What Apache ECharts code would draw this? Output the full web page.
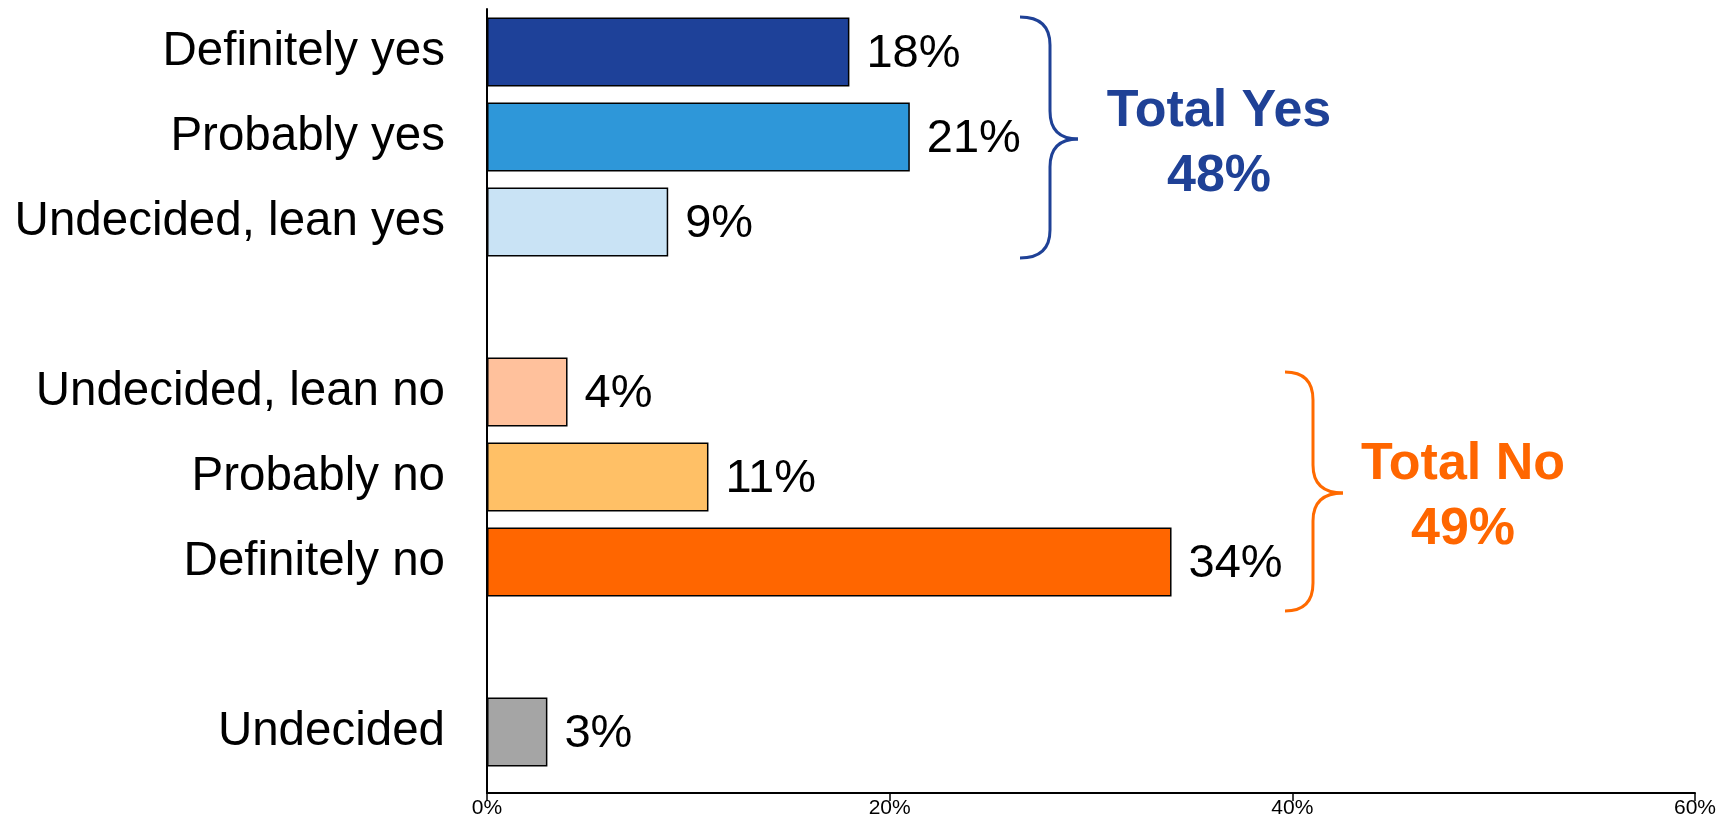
<!DOCTYPE html>
<html>
<head>
<meta charset="utf-8">
<title>Total Yes / Total No</title>
<script src="https://cdn.jsdelivr.net/npm/echarts@6.0.0/dist/echarts.min.js"></script>
<style>
  html, body { margin: 0; padding: 0; background: #fff; }
  #chart { width: 1725px; height: 819px; }
</style>
</head>
<body>
<div id="chart"></div>
<script>
// answers, top to bottom ('' = empty spacer row)
const categories = ['Definitely yes', 'Probably yes', 'Undecided, lean yes', '',
  'Undecided, lean no', 'Probably no', 'Definitely no', '', 'Undecided'];
const values = [18, 21, 9, null, 4, 11, 34, null, 3];
const barColors = ['#1E4199', '#2E97D9', '#C9E3F5', '#fff',
  '#FFC19C', '#FFC066', '#FF6600', '#fff', '#A5A5A5'];
const xTicks = [0, 20, 40, 60];
const totalYes = 48;
const totalNo = 49;

const FONT = '"Liberation Sans", Arial, sans-serif';

// curly brace made of 4 curves + 2 lines
function brace(xTip, xMid, xPoint, yTop, yMid, yBot, r, color) {
  const st = { stroke: color, lineWidth: 3, fill: null };
  return [
    { type: 'bezierCurve', shape: { x1: xTip, y1: yTop, cpx1: xMid, cpy1: yTop, x2: xMid, y2: yTop + r }, style: st },
    { type: 'line', shape: { x1: xMid, y1: yTop + r, x2: xMid, y2: yMid - r }, style: st },
    { type: 'bezierCurve', shape: { x1: xMid, y1: yMid - r, cpx1: xMid, cpy1: yMid, x2: xPoint, y2: yMid }, style: st },
    { type: 'bezierCurve', shape: { x1: xPoint, y1: yMid, cpx1: xMid, cpy1: yMid, x2: xMid, y2: yMid + r }, style: st },
    { type: 'line', shape: { x1: xMid, y1: yMid + r, x2: xMid, y2: yBot - r }, style: st },
    { type: 'bezierCurve', shape: { x1: xMid, y1: yBot - r, cpx1: xMid, cpy1: yBot, x2: xTip, y2: yBot }, style: st }
  ];
}

let chartDom = document.getElementById('chart');
let myChart = echarts.init(chartDom, null, { renderer: 'canvas', width: 1725, height: 819 });

let option = {
  animation: false,
  backgroundColor: '#fff',
  grid: [
    { left: 487, right: 30, top: 9.5, height: 765 },   // bars
    { left: 487, right: 30, top: 9, height: 785 }      // axis frame
  ],
  xAxis: [
    { gridIndex: 0, type: 'value', min: 0, max: 60, show: false },
    {
      gridIndex: 1, type: 'value', min: 0, max: 60, interval: 20,
      axisLine: { show: true, lineStyle: { color: '#000', width: 2 } },
      axisTick: { show: true, length: 8, lineStyle: { color: '#000', width: 1.5 } },
      splitLine: { show: false },
      axisLabel: {
        margin: 5, color: '#000', fontSize: 21,
        fontFamily: '"Liberation Sans Narrow", "Liberation Sans", Arial, sans-serif',
        formatter: v => xTicks.indexOf(v) >= 0 ? v + '%' : ''
      }
    }
  ],
  yAxis: [
    {
      gridIndex: 0, type: 'category', inverse: true, data: categories,
      axisLine: { show: false }, axisTick: { show: false },
      axisLabel: { margin: 42, color: '#000', fontSize: 47.5, fontFamily: FONT, padding: [5, 0, 0, 0] }
    },
    {
      gridIndex: 1, type: 'value', min: 0, max: 1,
      axisLine: { show: true, lineStyle: { color: '#000', width: 2 } },
      axisTick: { show: false }, axisLabel: { show: false }, splitLine: { show: false }
    }
  ],
  series: [
    {
      type: 'bar',
      xAxisIndex: 0, yAxisIndex: 0,
      barWidth: 69,
      data: values.map((v, i) => ({ value: v, itemStyle: { color: barColors[i] } })),
      itemStyle: { borderColor: '#000', borderWidth: 1.5 },
      label: {
        show: true, position: 'right', distance: 17, offset: [0, 2],
        formatter: '{c}%', color: '#000', fontSize: 47, fontFamily: FONT
      }
    }
  ],
  graphic: [
    ...brace(1020, 1050, 1078, 17, 139, 258, 28, '#1F4196'),
    ...brace(1285, 1313, 1343, 372, 493, 611, 28, '#FF6A00'),
    {
      type: 'text', x: 1219, y: 144,
      style: {
        text: 'Total Yes\n' + totalYes + '%', fill: '#1F4196',
        font: 'bold 52px ' + FONT, lineHeight: 65,
        align: 'center', verticalAlign: 'middle'
      }
    },
    {
      type: 'text', x: 1463, y: 497,
      style: {
        text: 'Total No\n' + totalNo + '%', fill: '#FF6600',
        font: 'bold 52px ' + FONT, lineHeight: 65,
        align: 'center', verticalAlign: 'middle'
      }
    }
  ]
};

option && myChart.setOption(option);
</script>
</body>
</html>
